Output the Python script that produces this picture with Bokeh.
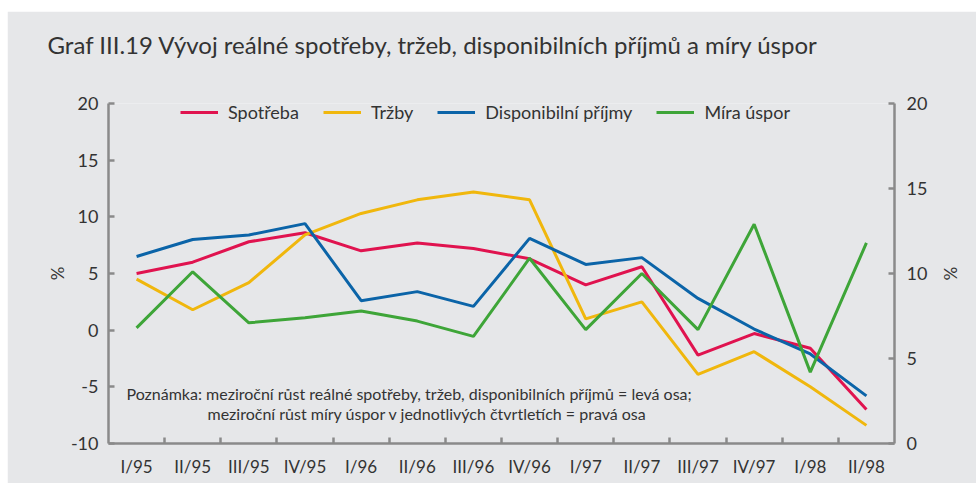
from bokeh.plotting import figure
from bokeh.models import (FactorRange, Range1d, LinearAxis, CategoricalAxis, FixedTicker,
                          Legend, LegendItem, Label, CustomJSTickFormatter, Title)
from bokeh.embed import file_html
from bokeh.resources import INLINE

categories = ["I/95", "II/95", "III/95", "IV/95", "I/96", "II/96", "III/96", "IV/96",
              "I/97", "II/97", "III/97", "IV/97", "I/98", "II/98"]
spotreba = [5.0, 6.0, 7.8, 8.6, 7.0, 7.7, 7.2, 6.3, 4.0, 5.6, -2.2, -0.3, -1.6, -7.0]
trzby = [4.5, 1.8, 4.2, 8.4, 10.3, 11.5, 12.2, 11.5, 1.0, 2.5, -3.9, -1.9, -5.0, -8.4]
disponibilni = [6.5, 8.0, 8.4, 9.4, 2.6, 3.4, 2.1, 8.1, 5.8, 6.4, 2.8, 0.1, -2.1, -5.8]
mira_uspor = [6.8, 10.1, 7.1, 7.4, 7.8, 7.2, 6.3, 10.9, 6.7, 10.0, 6.7, 12.9, 4.2, 11.8]

left_ticks = [-10, -5, 0, 5, 10, 15, 20]
right_ticks = [0, 5, 10, 15, 20]

FONT = "Lato"
TXT = "#333333"
AX = "#8a8a8a"
BG = "#e6e7e9"

p = figure(width=969, height=472, x_range=FactorRange(*categories), y_range=Range1d(-10, 20),
           x_axis_type=None, y_axis_type=None, output_backend="svg", toolbar_location=None,
           title=None,
           min_border_left=101, min_border_right=82, min_border_top=92, min_border_bottom=40)
p.margin = (11, 0, 0, 7)
p.background_fill_color = BG
p.border_fill_color = BG
p.outline_line_color = None
p.xgrid.visible = False
p.ygrid.visible = False
p.extra_y_ranges = {"right": Range1d(0, 20)}

# spacer between the frame and the title
spacer = Title(text=" ", text_font=FONT, text_font_size="16px", standoff=24)
p.add_layout(spacer, "above")
main_title = Title(text="Graf III.19 Vývoj reálné spotřeby, tržeb, disponibilních příjmů a míry úspor",
                   text_font=FONT, text_font_size="24px", text_font_style="normal",
                   text_color=TXT, align="left", offset=-61, standoff=0)
p.add_layout(main_title, "above")

def style_axis(ax, size="18px"):
    ax.axis_line_color = AX
    ax.axis_line_width = 2.5
    ax.major_tick_line_color = AX
    ax.major_tick_line_width = 2.5
    ax.major_tick_in = 6
    ax.major_tick_out = 0
    ax.minor_tick_line_color = None
    ax.major_label_text_font = FONT
    ax.major_label_text_font_size = size
    ax.major_label_text_color = TXT
    ax.axis_label_text_font = FONT
    ax.axis_label_text_font_size = "17px"
    ax.axis_label_text_color = TXT
    ax.axis_label_text_font_style = "normal"

yl = LinearAxis(ticker=FixedTicker(ticks=left_ticks), axis_label="%")
style_axis(yl)
yl.major_label_overrides = {t: str(t) for t in left_ticks}
yl.major_label_standoff = 10
yl.axis_label_standoff = 0
p.add_layout(yl, "left")

yr = LinearAxis(y_range_name="right", ticker=FixedTicker(ticks=right_ticks), axis_label="%")
style_axis(yr)
yr.major_label_standoff = 12
yr.axis_label_standoff = 10
p.add_layout(yr, "right")

# tick marks at the boundaries between quarters (synthetic coordinates of the factor range)
xt = LinearAxis(ticker=FixedTicker(ticks=list(range(1, len(categories)))),
                formatter=CustomJSTickFormatter(code="return ''"))
style_axis(xt)
xt.major_label_standoff = 0
xt.major_label_text_font_size = "1px"
p.add_layout(xt, "below")

xc = CategoricalAxis()
style_axis(xc, "17px")
xc.axis_line_color = None
xc.major_tick_line_color = None
xc.major_label_standoff = 12
p.add_layout(xc, "below")

colors = {"Spotřeba": "#e0134f", "Tržby": "#f0b70d", "Disponibilní příjmy": "#0b64a8", "Míra úspor": "#3ea538"}
r1 = p.line(categories, spotreba, line_color=colors["Spotřeba"], line_width=3)
r2 = p.line(categories, trzby, line_color=colors["Tržby"], line_width=3)
r3 = p.line(categories, disponibilni, line_color=colors["Disponibilní příjmy"], line_width=3)
r4 = p.line(categories, mira_uspor, line_color=colors["Míra úspor"], line_width=3, y_range_name="right")

legend = Legend(items=[LegendItem(label="Spotřeba", renderers=[r1]),
                       LegendItem(label="Tržby", renderers=[r2]),
                       LegendItem(label="Disponibilní příjmy", renderers=[r3]),
                       LegendItem(label="Míra úspor", renderers=[r4])],
                orientation="horizontal", location=(72, 320),
                glyph_width=38, glyph_height=16, label_height=16, label_standoff=10, spacing=24,
                padding=0, margin=0, border_line_color=None, background_fill_alpha=0,
                label_text_font=FONT, label_text_font_size="18px", label_text_color=TXT)
p.add_layout(legend, "center")

note1 = Label(x=18, y=50, x_units="screen", y_units="screen",
              text="Poznámka: meziroční růst reálné spotřeby, tržeb, disponibilních příjmů = levá osa;",
              text_font=FONT, text_font_size="16px", text_color=TXT, text_baseline="middle")
note2 = Label(x=99, y=30, x_units="screen", y_units="screen",
              text="meziroční růst míry úspor v jednotlivých čtvrtletích = pravá osa",
              text_font=FONT, text_font_size="16px", text_color=TXT, text_baseline="middle")
p.add_layout(note1)
p.add_layout(note2)

open("out.html", "w").write(file_html(p, INLINE))
